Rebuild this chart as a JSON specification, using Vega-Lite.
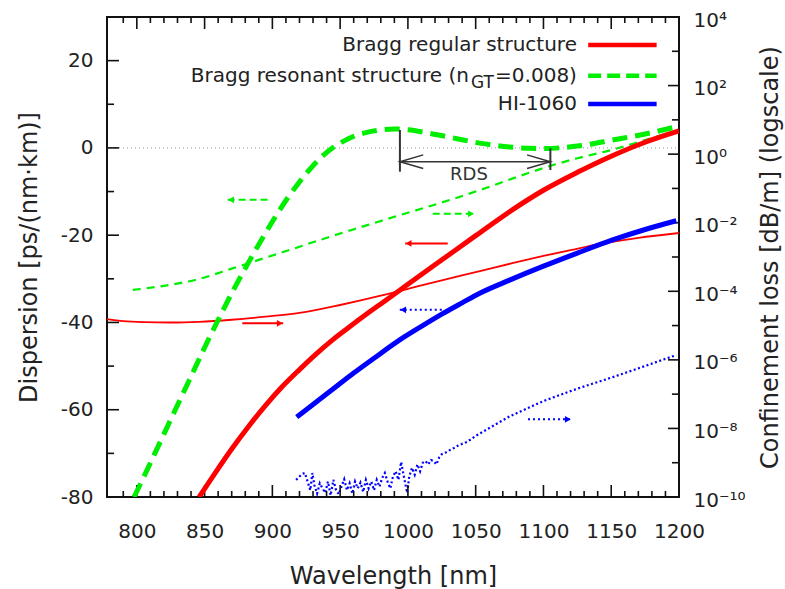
{
  "$schema": "https://vega.github.io/schema/vega-lite/v6.json",
  "width": 572,
  "height": 480,
  "autosize": {"type": "none"},
  "padding": {"left": 107, "top": 17, "right": 106, "bottom": 92},
  "background": "white",
  "config": {
    "font": "DejaVu Sans",
    "view": {"stroke": "#111111", "strokeWidth": 2},
    "axis": {
      "grid": false,
      "domain": false,
      "ticks": false,
      "tickSize": 0,
      "labelFont": "DejaVu Sans",
      "labelFontSize": 20,
      "labelColor": "#222222",
      "titleFont": "DejaVu Sans",
      "titleFontSize": 24,
      "titleFontWeight": "normal",
      "titleColor": "#222222",
      "labelOverlap": false,
      "labelFlush": false,
      "labelBound": false
    }
  },
  "datasets": {
    "xtick_lines": [
      {"t": "b800", "wl": 800, "disp": -80}, {"t": "b800", "wl": 800, "disp": -77.25},
      {"t": "b850", "wl": 850, "disp": -80}, {"t": "b850", "wl": 850, "disp": -77.25},
      {"t": "b900", "wl": 900, "disp": -80}, {"t": "b900", "wl": 900, "disp": -77.25},
      {"t": "b950", "wl": 950, "disp": -80}, {"t": "b950", "wl": 950, "disp": -77.25},
      {"t": "b1000", "wl": 1000, "disp": -80}, {"t": "b1000", "wl": 1000, "disp": -77.25},
      {"t": "b1050", "wl": 1050, "disp": -80}, {"t": "b1050", "wl": 1050, "disp": -77.25},
      {"t": "b1100", "wl": 1100, "disp": -80}, {"t": "b1100", "wl": 1100, "disp": -77.25},
      {"t": "b1150", "wl": 1150, "disp": -80}, {"t": "b1150", "wl": 1150, "disp": -77.25},
      {"t": "t800", "wl": 800, "disp": 30}, {"t": "t800", "wl": 800, "disp": 27.25},
      {"t": "t850", "wl": 850, "disp": 30}, {"t": "t850", "wl": 850, "disp": 27.25},
      {"t": "t900", "wl": 900, "disp": 30}, {"t": "t900", "wl": 900, "disp": 27.25},
      {"t": "t950", "wl": 950, "disp": 30}, {"t": "t950", "wl": 950, "disp": 27.25},
      {"t": "t1000", "wl": 1000, "disp": 30}, {"t": "t1000", "wl": 1000, "disp": 27.25},
      {"t": "t1050", "wl": 1050, "disp": 30}, {"t": "t1050", "wl": 1050, "disp": 27.25},
      {"t": "t1100", "wl": 1100, "disp": 30}, {"t": "t1100", "wl": 1100, "disp": 27.25},
      {"t": "t1150", "wl": 1150, "disp": 30}, {"t": "t1150", "wl": 1150, "disp": 27.25},
      {"t": "b790", "wl": 790, "disp": -80}, {"t": "b790", "wl": 790, "disp": -78.63},
      {"t": "b810", "wl": 810, "disp": -80}, {"t": "b810", "wl": 810, "disp": -78.63},
      {"t": "b820", "wl": 820, "disp": -80}, {"t": "b820", "wl": 820, "disp": -78.63},
      {"t": "b830", "wl": 830, "disp": -80}, {"t": "b830", "wl": 830, "disp": -78.63},
      {"t": "b840", "wl": 840, "disp": -80}, {"t": "b840", "wl": 840, "disp": -78.63},
      {"t": "b860", "wl": 860, "disp": -80}, {"t": "b860", "wl": 860, "disp": -78.63},
      {"t": "b870", "wl": 870, "disp": -80}, {"t": "b870", "wl": 870, "disp": -78.63},
      {"t": "b880", "wl": 880, "disp": -80}, {"t": "b880", "wl": 880, "disp": -78.63},
      {"t": "b890", "wl": 890, "disp": -80}, {"t": "b890", "wl": 890, "disp": -78.63},
      {"t": "b910", "wl": 910, "disp": -80}, {"t": "b910", "wl": 910, "disp": -78.63},
      {"t": "b920", "wl": 920, "disp": -80}, {"t": "b920", "wl": 920, "disp": -78.63},
      {"t": "b930", "wl": 930, "disp": -80}, {"t": "b930", "wl": 930, "disp": -78.63},
      {"t": "b940", "wl": 940, "disp": -80}, {"t": "b940", "wl": 940, "disp": -78.63},
      {"t": "b960", "wl": 960, "disp": -80}, {"t": "b960", "wl": 960, "disp": -78.63},
      {"t": "b970", "wl": 970, "disp": -80}, {"t": "b970", "wl": 970, "disp": -78.63},
      {"t": "b980", "wl": 980, "disp": -80}, {"t": "b980", "wl": 980, "disp": -78.63},
      {"t": "b990", "wl": 990, "disp": -80}, {"t": "b990", "wl": 990, "disp": -78.63},
      {"t": "b1010", "wl": 1010, "disp": -80}, {"t": "b1010", "wl": 1010, "disp": -78.63},
      {"t": "b1020", "wl": 1020, "disp": -80}, {"t": "b1020", "wl": 1020, "disp": -78.63},
      {"t": "b1030", "wl": 1030, "disp": -80}, {"t": "b1030", "wl": 1030, "disp": -78.63},
      {"t": "b1040", "wl": 1040, "disp": -80}, {"t": "b1040", "wl": 1040, "disp": -78.63},
      {"t": "b1060", "wl": 1060, "disp": -80}, {"t": "b1060", "wl": 1060, "disp": -78.63},
      {"t": "b1070", "wl": 1070, "disp": -80}, {"t": "b1070", "wl": 1070, "disp": -78.63},
      {"t": "b1080", "wl": 1080, "disp": -80}, {"t": "b1080", "wl": 1080, "disp": -78.63},
      {"t": "b1090", "wl": 1090, "disp": -80}, {"t": "b1090", "wl": 1090, "disp": -78.63},
      {"t": "b1110", "wl": 1110, "disp": -80}, {"t": "b1110", "wl": 1110, "disp": -78.63},
      {"t": "b1120", "wl": 1120, "disp": -80}, {"t": "b1120", "wl": 1120, "disp": -78.63},
      {"t": "b1130", "wl": 1130, "disp": -80}, {"t": "b1130", "wl": 1130, "disp": -78.63},
      {"t": "b1140", "wl": 1140, "disp": -80}, {"t": "b1140", "wl": 1140, "disp": -78.63},
      {"t": "b1160", "wl": 1160, "disp": -80}, {"t": "b1160", "wl": 1160, "disp": -78.63},
      {"t": "b1170", "wl": 1170, "disp": -80}, {"t": "b1170", "wl": 1170, "disp": -78.63},
      {"t": "b1180", "wl": 1180, "disp": -80}, {"t": "b1180", "wl": 1180, "disp": -78.63},
      {"t": "b1190", "wl": 1190, "disp": -80}, {"t": "b1190", "wl": 1190, "disp": -78.63},
      {"t": "t790", "wl": 790, "disp": 30}, {"t": "t790", "wl": 790, "disp": 28.63},
      {"t": "t810", "wl": 810, "disp": 30}, {"t": "t810", "wl": 810, "disp": 28.63},
      {"t": "t820", "wl": 820, "disp": 30}, {"t": "t820", "wl": 820, "disp": 28.63},
      {"t": "t830", "wl": 830, "disp": 30}, {"t": "t830", "wl": 830, "disp": 28.63},
      {"t": "t840", "wl": 840, "disp": 30}, {"t": "t840", "wl": 840, "disp": 28.63},
      {"t": "t860", "wl": 860, "disp": 30}, {"t": "t860", "wl": 860, "disp": 28.63},
      {"t": "t870", "wl": 870, "disp": 30}, {"t": "t870", "wl": 870, "disp": 28.63},
      {"t": "t880", "wl": 880, "disp": 30}, {"t": "t880", "wl": 880, "disp": 28.63},
      {"t": "t890", "wl": 890, "disp": 30}, {"t": "t890", "wl": 890, "disp": 28.63},
      {"t": "t910", "wl": 910, "disp": 30}, {"t": "t910", "wl": 910, "disp": 28.63},
      {"t": "t920", "wl": 920, "disp": 30}, {"t": "t920", "wl": 920, "disp": 28.63},
      {"t": "t930", "wl": 930, "disp": 30}, {"t": "t930", "wl": 930, "disp": 28.63},
      {"t": "t940", "wl": 940, "disp": 30}, {"t": "t940", "wl": 940, "disp": 28.63},
      {"t": "t960", "wl": 960, "disp": 30}, {"t": "t960", "wl": 960, "disp": 28.63},
      {"t": "t970", "wl": 970, "disp": 30}, {"t": "t970", "wl": 970, "disp": 28.63},
      {"t": "t980", "wl": 980, "disp": 30}, {"t": "t980", "wl": 980, "disp": 28.63},
      {"t": "t990", "wl": 990, "disp": 30}, {"t": "t990", "wl": 990, "disp": 28.63},
      {"t": "t1010", "wl": 1010, "disp": 30}, {"t": "t1010", "wl": 1010, "disp": 28.63},
      {"t": "t1020", "wl": 1020, "disp": 30}, {"t": "t1020", "wl": 1020, "disp": 28.63},
      {"t": "t1030", "wl": 1030, "disp": 30}, {"t": "t1030", "wl": 1030, "disp": 28.63},
      {"t": "t1040", "wl": 1040, "disp": 30}, {"t": "t1040", "wl": 1040, "disp": 28.63},
      {"t": "t1060", "wl": 1060, "disp": 30}, {"t": "t1060", "wl": 1060, "disp": 28.63},
      {"t": "t1070", "wl": 1070, "disp": 30}, {"t": "t1070", "wl": 1070, "disp": 28.63},
      {"t": "t1080", "wl": 1080, "disp": 30}, {"t": "t1080", "wl": 1080, "disp": 28.63},
      {"t": "t1090", "wl": 1090, "disp": 30}, {"t": "t1090", "wl": 1090, "disp": 28.63},
      {"t": "t1110", "wl": 1110, "disp": 30}, {"t": "t1110", "wl": 1110, "disp": 28.63},
      {"t": "t1120", "wl": 1120, "disp": 30}, {"t": "t1120", "wl": 1120, "disp": 28.63},
      {"t": "t1130", "wl": 1130, "disp": 30}, {"t": "t1130", "wl": 1130, "disp": 28.63},
      {"t": "t1140", "wl": 1140, "disp": 30}, {"t": "t1140", "wl": 1140, "disp": 28.63},
      {"t": "t1160", "wl": 1160, "disp": 30}, {"t": "t1160", "wl": 1160, "disp": 28.63},
      {"t": "t1170", "wl": 1170, "disp": 30}, {"t": "t1170", "wl": 1170, "disp": 28.63},
      {"t": "t1180", "wl": 1180, "disp": 30}, {"t": "t1180", "wl": 1180, "disp": 28.63},
      {"t": "t1190", "wl": 1190, "disp": 30}, {"t": "t1190", "wl": 1190, "disp": 28.63}
    ],
    "ytick_lines": [
      {"t": "l-60", "wl": 778, "disp": -60}, {"t": "l-60", "wl": 786.85, "disp": -60},
      {"t": "l-40", "wl": 778, "disp": -40}, {"t": "l-40", "wl": 786.85, "disp": -40},
      {"t": "l-20", "wl": 778, "disp": -20}, {"t": "l-20", "wl": 786.85, "disp": -20},
      {"t": "l0", "wl": 778, "disp": 0}, {"t": "l0", "wl": 786.85, "disp": 0},
      {"t": "l20", "wl": 778, "disp": 20}, {"t": "l20", "wl": 786.85, "disp": 20},
      {"t": "l-70", "wl": 778, "disp": -70}, {"t": "l-70", "wl": 783.2, "disp": -70},
      {"t": "l-50", "wl": 778, "disp": -50}, {"t": "l-50", "wl": 783.2, "disp": -50},
      {"t": "l-30", "wl": 778, "disp": -30}, {"t": "l-30", "wl": 783.2, "disp": -30},
      {"t": "l-10", "wl": 778, "disp": -10}, {"t": "l-10", "wl": 783.2, "disp": -10},
      {"t": "l10", "wl": 778, "disp": 10}, {"t": "l10", "wl": 783.2, "disp": 10}
    ],
    "ltick_lines": [
      {"t": "r2", "wl": 1200, "loss": 100}, {"t": "r2", "wl": 1191.9, "loss": 100},
      {"t": "r0", "wl": 1200, "loss": 1}, {"t": "r0", "wl": 1191.9, "loss": 1},
      {"t": "r-2", "wl": 1200, "loss": 0.01}, {"t": "r-2", "wl": 1191.9, "loss": 0.01},
      {"t": "r-4", "wl": 1200, "loss": 0.0001}, {"t": "r-4", "wl": 1191.9, "loss": 0.0001},
      {"t": "r-6", "wl": 1200, "loss": 1e-6}, {"t": "r-6", "wl": 1191.9, "loss": 1e-6},
      {"t": "r-8", "wl": 1200, "loss": 1e-8}, {"t": "r-8", "wl": 1191.9, "loss": 1e-8},
      {"t": "r3", "wl": 1200, "loss": 1000}, {"t": "r3", "wl": 1194.8, "loss": 1000},
      {"t": "r1", "wl": 1200, "loss": 10}, {"t": "r1", "wl": 1194.8, "loss": 10},
      {"t": "r-1", "wl": 1200, "loss": 0.1}, {"t": "r-1", "wl": 1194.8, "loss": 0.1},
      {"t": "r-3", "wl": 1200, "loss": 0.001}, {"t": "r-3", "wl": 1194.8, "loss": 0.001},
      {"t": "r-5", "wl": 1200, "loss": 1e-5}, {"t": "r-5", "wl": 1194.8, "loss": 1e-5},
      {"t": "r-7", "wl": 1200, "loss": 1e-7}, {"t": "r-7", "wl": 1194.8, "loss": 1e-7},
      {"t": "r-9", "wl": 1200, "loss": 1e-9}, {"t": "r-9", "wl": 1194.8, "loss": 1e-9}
    ],
    "bragg_loss": [
      {"wl": 778, "loss": 1.549e-5}, {"wl": 790, "loss": 1.349e-5}, {"wl": 806, "loss": 1.259e-5},
      {"wl": 825, "loss": 1.230e-5}, {"wl": 846, "loss": 1.288e-5}, {"wl": 870, "loss": 1.479e-5},
      {"wl": 895, "loss": 1.820e-5}, {"wl": 920, "loss": 2.344e-5}, {"wl": 950, "loss": 3.981e-5},
      {"wl": 980, "loss": 7.413e-5}, {"wl": 1000, "loss": 1.175e-4}, {"wl": 1025, "loss": 2.089e-4},
      {"wl": 1050, "loss": 3.631e-4}, {"wl": 1077, "loss": 6.607e-4}, {"wl": 1100, "loss": 1.072e-3},
      {"wl": 1120, "loss": 1.585e-3}, {"wl": 1142, "loss": 2.399e-3}, {"wl": 1170, "loss": 3.631e-3},
      {"wl": 1200, "loss": 5.012e-3}
    ],
    "res_loss": [
      {"wl": 797, "loss": 1.096e-4}, {"wl": 820, "loss": 1.445e-4}, {"wl": 846, "loss": 2.291e-4},
      {"wl": 870, "loss": 4.571e-4}, {"wl": 895, "loss": 9.550e-4}, {"wl": 920, "loss": 1.995e-3},
      {"wl": 944, "loss": 4.074e-3}, {"wl": 970, "loss": 8.511e-3}, {"wl": 994, "loss": 1.660e-2},
      {"wl": 1025, "loss": 3.890e-2}, {"wl": 1053, "loss": 8.913e-2}, {"wl": 1078, "loss": 0.1995},
      {"wl": 1102, "loss": 0.4169}, {"wl": 1125, "loss": 0.7586}, {"wl": 1151, "loss": 1.349},
      {"wl": 1175, "loss": 2.570}, {"wl": 1200, "loss": 5.012}
    ],
    "hi_loss": [
      {"wl": 917.5, "loss": 3.16e-10}, {"wl": 920, "loss": 3.98e-10}, {"wl": 922, "loss": 4.68e-10},
      {"wl": 924, "loss": 5.01e-10}, {"wl": 926, "loss": 2.82e-10}, {"wl": 928, "loss": 1.58e-10},
      {"wl": 929.5, "loss": 5.01e-10}, {"wl": 931, "loss": 2.24e-10}, {"wl": 933, "loss": 1.26e-10},
      {"wl": 935, "loss": 2.51e-10}, {"wl": 937, "loss": 1.78e-10}, {"wl": 939, "loss": 1.32e-10},
      {"wl": 941, "loss": 2.82e-10}, {"wl": 943, "loss": 1.12e-10}, {"wl": 945, "loss": 3.16e-10},
      {"wl": 947, "loss": 1.58e-10}, {"wl": 949, "loss": 1.20e-10}, {"wl": 951, "loss": 2.00e-10},
      {"wl": 953, "loss": 3.31e-10}, {"wl": 955, "loss": 1.58e-10}, {"wl": 957, "loss": 2.51e-10},
      {"wl": 959, "loss": 1.26e-10}, {"wl": 961, "loss": 2.82e-10}, {"wl": 963, "loss": 1.78e-10},
      {"wl": 965, "loss": 2.63e-10}, {"wl": 967, "loss": 1.41e-10}, {"wl": 969, "loss": 3.16e-10},
      {"wl": 971, "loss": 1.78e-10}, {"wl": 973, "loss": 2.82e-10}, {"wl": 975, "loss": 1.58e-10},
      {"wl": 977, "loss": 3.16e-10}, {"wl": 979, "loss": 2.00e-10}, {"wl": 981, "loss": 3.55e-10},
      {"wl": 983, "loss": 5.01e-10}, {"wl": 985, "loss": 2.82e-10}, {"wl": 987, "loss": 1.78e-10},
      {"wl": 989, "loss": 3.98e-10}, {"wl": 991, "loss": 5.62e-10}, {"wl": 993, "loss": 3.16e-10},
      {"wl": 995, "loss": 1.05e-9}, {"wl": 996.5, "loss": 5.01e-10}, {"wl": 998, "loss": 2.51e-10},
      {"wl": 999.5, "loss": 1.32e-10}, {"wl": 1001, "loss": 3.98e-10}, {"wl": 1003, "loss": 7.08e-10},
      {"wl": 1005, "loss": 4.47e-10}, {"wl": 1007, "loss": 8.91e-10}, {"wl": 1009, "loss": 5.62e-10},
      {"wl": 1011, "loss": 1.00e-9}, {"wl": 1013, "loss": 1.12e-9}, {"wl": 1015, "loss": 8.91e-10},
      {"wl": 1017, "loss": 1.20e-9}, {"wl": 1019, "loss": 1.12e-9}, {"wl": 1021, "loss": 8.91e-10},
      {"wl": 1023, "loss": 1.41e-9}, {"wl": 1025, "loss": 1.78e-9}, {"wl": 1028, "loss": 2.00e-9},
      {"wl": 1031, "loss": 2.34e-9}, {"wl": 1034, "loss": 2.69e-9}, {"wl": 1037, "loss": 3.16e-9},
      {"wl": 1040, "loss": 3.55e-9}, {"wl": 1043, "loss": 3.98e-9}, {"wl": 1046, "loss": 4.68e-9},
      {"wl": 1050, "loss": 6.03e-9}, {"wl": 1075, "loss": 2.24e-8}, {"wl": 1100, "loss": 6.31e-8},
      {"wl": 1125, "loss": 1.45e-7}, {"wl": 1150, "loss": 3.02e-7}, {"wl": 1175, "loss": 6.61e-7},
      {"wl": 1198, "loss": 1.38e-6}
    ],
    "zero": [{"wl": 778, "disp": 0}, {"wl": 1200, "disp": 0}],
    "bragg_disp": [
      {"wl": 846, "disp": -80}, {"wl": 858, "disp": -74.4}, {"wl": 870, "disp": -69.0},
      {"wl": 882, "disp": -64.0}, {"wl": 895, "disp": -59.0}, {"wl": 907, "disp": -54.8},
      {"wl": 920, "disp": -50.8}, {"wl": 932, "disp": -47.3}, {"wl": 944, "disp": -44.1},
      {"wl": 957, "disp": -41.0}, {"wl": 969, "disp": -38.2}, {"wl": 982, "disp": -35.3},
      {"wl": 994, "disp": -32.6}, {"wl": 1010, "disp": -29.0}, {"wl": 1028, "disp": -25.0},
      {"wl": 1050, "disp": -20.1}, {"wl": 1077, "disp": -14.2}, {"wl": 1100, "disp": -9.7},
      {"wl": 1125, "disp": -5.6}, {"wl": 1150, "disp": -1.9}, {"wl": 1175, "disp": 1.3},
      {"wl": 1200, "disp": 3.9}
    ],
    "res_disp": [
      {"wl": 798, "disp": -80}, {"wl": 810, "disp": -72.2}, {"wl": 821, "disp": -64.9},
      {"wl": 831, "disp": -58.3}, {"wl": 841, "disp": -51.7}, {"wl": 851, "disp": -45.1},
      {"wl": 861, "disp": -38.8}, {"wl": 870, "disp": -33.3}, {"wl": 878, "disp": -28.7},
      {"wl": 885, "disp": -24.8}, {"wl": 894, "disp": -20.0}, {"wl": 902, "disp": -15.9},
      {"wl": 911, "disp": -11.6}, {"wl": 920, "disp": -7.8}, {"wl": 926, "disp": -5.5},
      {"wl": 932, "disp": -3.4}, {"wl": 938, "disp": -1.6}, {"wl": 944, "disp": -0.1},
      {"wl": 950, "disp": 1.1}, {"wl": 956, "disp": 2.1}, {"wl": 962, "disp": 2.9},
      {"wl": 969, "disp": 3.5}, {"wl": 975, "disp": 3.9}, {"wl": 982, "disp": 4.2},
      {"wl": 990, "disp": 4.35}, {"wl": 1000, "disp": 4.15}, {"wl": 1015, "disp": 3.4},
      {"wl": 1030, "disp": 2.5}, {"wl": 1053, "disp": 1.1}, {"wl": 1075, "disp": 0.2},
      {"wl": 1090, "disp": -0.1}, {"wl": 1102, "disp": -0.15}, {"wl": 1115, "disp": 0.1},
      {"wl": 1130, "disp": 0.6}, {"wl": 1151, "disp": 1.8}, {"wl": 1175, "disp": 3.2},
      {"wl": 1200, "disp": 5.0}
    ],
    "hi_disp": [
      {"wl": 918, "disp": -61.7}, {"wl": 930, "disp": -58.8}, {"wl": 945, "disp": -55.2},
      {"wl": 960, "disp": -51.6}, {"wl": 975, "disp": -48.2}, {"wl": 994, "disp": -44.0},
      {"wl": 1010, "disp": -40.9}, {"wl": 1025, "disp": -38.1}, {"wl": 1040, "disp": -35.5},
      {"wl": 1053, "disp": -33.3}, {"wl": 1075, "disp": -30.3}, {"wl": 1100, "disp": -27.1},
      {"wl": 1125, "disp": -24.1}, {"wl": 1151, "disp": -21.1}, {"wl": 1175, "disp": -18.7},
      {"wl": 1198, "disp": -16.7}
    ],
    "arrows": [
      {"arrow": "a1", "series": "res", "style": "dash", "wl": 867, "disp": -11.9},
      {"arrow": "a1", "series": "res", "style": "dash", "wl": 899, "disp": -11.9},
      {"arrow": "a2", "series": "res", "style": "dash", "wl": 1018.3, "disp": -15.1},
      {"arrow": "a2", "series": "res", "style": "dash", "wl": 1049, "disp": -15.1},
      {"arrow": "a3", "series": "bragg", "style": "solid", "wl": 998, "disp": -21.9},
      {"arrow": "a3", "series": "bragg", "style": "solid", "wl": 1029.4, "disp": -21.9},
      {"arrow": "a4", "series": "bragg", "style": "solid", "wl": 877.8, "disp": -40.2},
      {"arrow": "a4", "series": "bragg", "style": "solid", "wl": 908, "disp": -40.2},
      {"arrow": "a5", "series": "hi", "style": "dot", "wl": 994, "disp": -37.1},
      {"arrow": "a5", "series": "hi", "style": "dot", "wl": 1025.3, "disp": -37.1},
      {"arrow": "a6", "series": "hi", "style": "dot", "wl": 1088.6, "disp": -62.2},
      {"arrow": "a6", "series": "hi", "style": "dot", "wl": 1120.5, "disp": -62.2}
    ],
    "heads": [
      {"series": "res", "dir": "left", "wl": 869.5, "disp": -11.9},
      {"series": "res", "dir": "right", "wl": 1046.5, "disp": -15.1},
      {"series": "bragg", "dir": "left", "wl": 1000.5, "disp": -21.9},
      {"series": "bragg", "dir": "right", "wl": 905.5, "disp": -40.2},
      {"series": "hi", "dir": "left", "wl": 996.5, "disp": -37.1},
      {"series": "hi", "dir": "right", "wl": 1118, "disp": -62.2}
    ],
    "rds_bars": [
      {"wl": 994.1, "disp": 4.1, "disp2": -5.45},
      {"wl": 1105.1, "disp": -0.1, "disp2": -5.06}
    ],
    "rds_shaft": [{"wl": 994.1, "wl2": 1105.1, "disp": -3.15}],
    "rds_heads": [
      {"head": "L", "k": 0, "wl": 1011.3, "disp": -1.6},
      {"head": "L", "k": 1, "wl": 994.1, "disp": -3.15},
      {"head": "L", "k": 2, "wl": 1011.3, "disp": -4.7},
      {"head": "R", "k": 0, "wl": 1087.9, "disp": -1.6},
      {"head": "R", "k": 1, "wl": 1105.1, "disp": -3.15},
      {"head": "R", "k": 2, "wl": 1087.9, "disp": -4.7}
    ],
    "rds_text": [{"wl": 1045, "disp": -7.35, "label": "RDS"}],
    "legend_lines": [
      {"series": "bragg", "style": "solid", "wl": 1133, "disp": 23.58},
      {"series": "bragg", "style": "solid", "wl": 1183.5, "disp": 23.58},
      {"series": "res", "style": "bigdash", "wl": 1133, "disp": 16.55},
      {"series": "res", "style": "bigdash", "wl": 1183.5, "disp": 16.55},
      {"series": "hi", "style": "solid", "wl": 1133, "disp": 10.06},
      {"series": "hi", "style": "solid", "wl": 1183.5, "disp": 10.06}
    ],
    "legend_text": [
      {"wl": 1124.7, "disp": 22.2, "label": "Bragg regular structure"},
      {"wl": 1045.0, "disp": 15.0, "label": "Bragg resonant structure (n"},
      {"wl": 1124.7, "disp": 15.0, "label": "=0.008)"},
      {"wl": 1124.7, "disp": 8.7, "label": "HI-1060"}
    ],
    "legend_sub": [
      {"wl": 1063.5, "disp": 13.66, "label": "GT"}
    ]
  },
  "layer": [
    {
      "encoding": {
        "x": {
          "field": "wl", "type": "quantitative",
          "scale": {"domain": [778, 1200], "nice": false, "zero": false},
          "axis": null
        },
        "y": {
          "field": "loss", "type": "quantitative",
          "scale": {"type": "log", "domain": [1e-10, 10000], "nice": false},
          "axis": {
            "orient": "right",
            "values": [10000, 100, 1, 0.01, 0.0001, 1e-6, 1e-8, 1e-10],
            "labelExpr": "'10' + (datum.value < 1 ? '⁻' : '') + replace(replace(replace(replace(replace(replace(format(abs(round(log(datum.value)/LN10)), 'd'), '0', '⁰'), '1', '¹'), '2', '²'), '4', '⁴'), '6', '⁶'), '8', '⁸')",
            "labelPadding": 14,
            "labelOffset": 3,
            "labelAlign": "left",
            "title": "Confinement loss [dB/m] (logscale)",
            "titleAngle": 270,
            "titleX": 91,
            "titleY": 240,
            "titleAlign": "center",
            "titleBaseline": "middle"
          }
        }
      },
      "layer": [
        {"data": {"name": "bragg_loss"}, "mark": {"type": "line", "color": "#ff0000", "strokeWidth": 1.8, "interpolate": "monotone", "clip": true}},
        {"data": {"name": "res_loss"}, "mark": {"type": "line", "color": "#00ee00", "strokeWidth": 2.2, "strokeDash": [8, 6], "interpolate": "monotone", "clip": true}},
        {"data": {"name": "hi_loss"}, "mark": {"type": "line", "color": "#0000ff", "strokeWidth": 2.2, "strokeDash": [2, 2.5], "interpolate": "linear", "clip": true}},
        {"data": {"name": "ltick_lines"}, "mark": {"type": "line", "color": "#111111", "strokeWidth": 1.6}, "encoding": {"detail": {"field": "t"}}}
      ]
    },
    {
      "encoding": {
        "x": {
          "field": "wl", "type": "quantitative",
          "scale": {"domain": [778, 1200], "nice": false, "zero": false},
          "axis": {
            "orient": "bottom",
            "values": [800, 850, 900, 950, 1000, 1050, 1100, 1150, 1200],
            "format": "d",
            "labelPadding": 24,
            "title": "Wavelength [nm]",
            "titleX": 286,
            "titleY": 86,
            "titleAlign": "center",
            "titleBaseline": "alphabetic"
          }
        },
        "y": {
          "field": "disp", "type": "quantitative",
          "scale": {"domain": [-80, 30], "nice": false, "zero": false},
          "axis": {
            "orient": "left",
            "values": [-80, -60, -40, -20, 0, 20],
            "labelExpr": "replace(datum.label, '−', '-')",
            "labelPadding": 14,
            "title": "Dispersion [ps/(nm·km)]",
            "titleAngle": 270,
            "titleX": -78,
            "titleY": 240,
            "titleAlign": "center",
            "titleBaseline": "middle"
          }
        }
      },
      "layer": [
        {"data": {"name": "zero"}, "mark": {"type": "line", "color": "#999999", "strokeWidth": 1, "strokeDash": [1, 3]}},
        {"data": {"name": "xtick_lines"}, "mark": {"type": "line", "color": "#111111", "strokeWidth": 1.6}, "encoding": {"detail": {"field": "t"}}},
        {"data": {"name": "ytick_lines"}, "mark": {"type": "line", "color": "#111111", "strokeWidth": 1.6}, "encoding": {"detail": {"field": "t"}}},
        {"data": {"name": "bragg_disp"}, "mark": {"type": "line", "color": "#ff0000", "strokeWidth": 5, "interpolate": "monotone", "clip": true}},
        {"data": {"name": "res_disp"}, "mark": {"type": "line", "color": "#00ee00", "strokeWidth": 5, "strokeDash": [15, 8], "interpolate": "monotone", "clip": true}},
        {"data": {"name": "hi_disp"}, "mark": {"type": "line", "color": "#0000ff", "strokeWidth": 5, "interpolate": "monotone", "clip": true}},
        {
          "data": {"name": "arrows"},
          "mark": {"type": "line", "strokeWidth": 2},
          "encoding": {
            "detail": {"field": "arrow"},
            "color": {"field": "series", "type": "nominal", "scale": {"domain": ["bragg", "res", "hi"], "range": ["#ff0000", "#00ee00", "#0000ff"]}, "legend": null},
            "strokeDash": {"field": "style", "type": "nominal", "scale": {"domain": ["solid", "dash", "dot", "bigdash"], "range": [[1, 0], [7, 4], [2, 3], [13, 6]]}, "legend": null}
          }
        },
        {
          "data": {"name": "heads"},
          "mark": {"type": "point", "filled": true, "opacity": 1, "size": 45, "strokeWidth": 0},
          "encoding": {
            "color": {"field": "series", "type": "nominal", "scale": {"domain": ["bragg", "res", "hi"], "range": ["#ff0000", "#00ee00", "#0000ff"]}, "legend": null},
            "shape": {"field": "dir", "type": "nominal", "scale": {"domain": ["left", "right"], "range": ["triangle-left", "triangle-right"]}, "legend": null}
          }
        },
        {
          "data": {"name": "rds_bars"},
          "mark": {"type": "rule", "color": "#333333", "strokeWidth": 2},
          "encoding": {"y2": {"field": "disp2"}}
        },
        {
          "data": {"name": "rds_shaft"},
          "mark": {"type": "rule", "color": "#333333", "strokeWidth": 1.5},
          "encoding": {"x2": {"field": "wl2"}}
        },
        {
          "data": {"name": "rds_heads"},
          "mark": {"type": "line", "color": "#333333", "strokeWidth": 1.5},
          "encoding": {"detail": {"field": "head"}, "order": {"field": "k", "type": "quantitative"}}
        },
        {
          "data": {"name": "rds_text"},
          "mark": {"type": "text", "align": "center", "baseline": "alphabetic", "fontSize": 18, "font": "DejaVu Sans", "color": "#333333"},
          "encoding": {"text": {"field": "label"}}
        },
        {
          "data": {"name": "legend_lines"},
          "mark": {"type": "line", "strokeWidth": 4.5},
          "encoding": {
            "detail": {"field": "series"},
            "color": {"field": "series", "type": "nominal", "scale": {"domain": ["bragg", "res", "hi"], "range": ["#ff0000", "#00ee00", "#0000ff"]}, "legend": null},
            "strokeDash": {"field": "style", "type": "nominal", "scale": {"domain": ["solid", "dash", "dot", "bigdash"], "range": [[1, 0], [7, 4], [2, 3], [13, 6]]}, "legend": null}
          }
        },
        {
          "data": {"name": "legend_text"},
          "mark": {"type": "text", "align": "right", "baseline": "alphabetic", "fontSize": 20, "font": "DejaVu Sans", "color": "#222222"},
          "encoding": {"text": {"field": "label"}}
        },
        {
          "data": {"name": "legend_sub"},
          "mark": {"type": "text", "align": "right", "baseline": "alphabetic", "fontSize": 17, "font": "DejaVu Sans", "color": "#222222"},
          "encoding": {"text": {"field": "label"}}
        }
      ]
    }
  ],
  "resolve": {"scale": {"y": "independent"}, "axis": {"x": "independent"}}
}
